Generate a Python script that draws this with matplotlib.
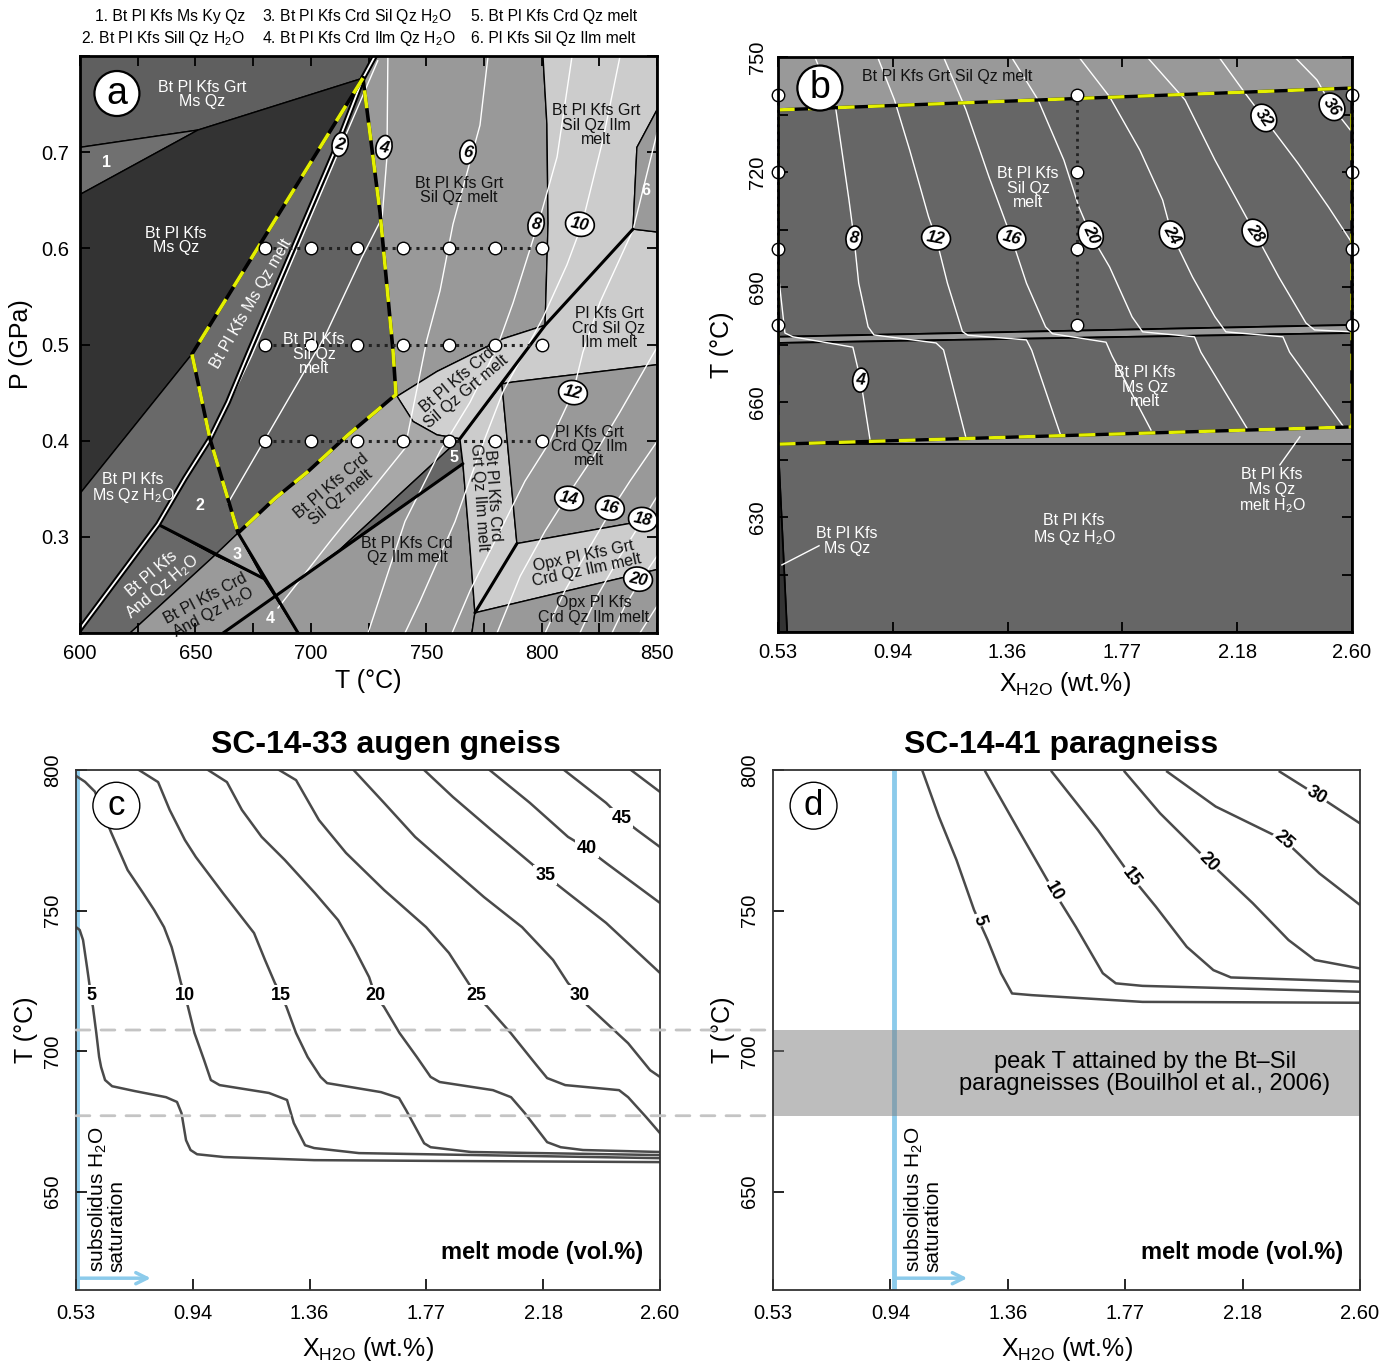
import matplotlib
matplotlib.use("Agg")
import matplotlib.pyplot as plt
from matplotlib.patches import Polygon, ConnectionPatch
import numpy as np

plt.rcParams['font.family'] = ['Liberation Sans', 'DejaVu Sans']
plt.rcParams['mathtext.fontset'] = 'custom'
plt.rcParams['mathtext.rm'] = 'Liberation Sans'
plt.rcParams['mathtext.it'] = 'Liberation Sans:italic'
plt.rcParams['mathtext.bf'] = 'Liberation Sans:bold'

#### panel a: P-T pseudosection, fields as (T degC, P GPa) ####
a_grt_ms_qz = [(600, 0.8), (727.8, 0.8), (722.6, 0.777), (651.1, 0.723), (600, 0.705)]
a_field1 = [(600, 0.705), (651.1, 0.723), (600, 0.656)]
a_ms_qz = [(600, 0.656), (651.1, 0.723), (722.6, 0.777), (648.5, 0.490), (600, 0.345)]
a_ms_qz_h2o = [(600, 0.345), (648.5, 0.490), (656.3, 0.402), (645.5, 0.361), (633.8, 0.313), (600, 0.204)]
a_and_h2o = [(600, 0.204), (633.8, 0.313), (658.5, 0.281), (621.7, 0.2), (600, 0.2)]
a_crd_and_h2o = [(621.7, 0.2), (658.5, 0.281), (679.3, 0.257), (684.5, 0.238), (662.0, 0.2)]
a_field2 = [(656.3, 0.402), (645.5, 0.361), (633.8, 0.313), (658.5, 0.281), (668.5, 0.304)]
a_field3 = [(658.5, 0.281), (668.5, 0.304), (679.3, 0.257)]
a_field4 = [(662.0, 0.2), (684.5, 0.238), (694.5, 0.2)]
a_ms_melt = [(722.6, 0.777), (648.5, 0.490), (656.3, 0.402), (664.1, 0.440), (672.8, 0.490), (710.5, 0.702)]
a_sil_melt = [(722.6, 0.777), (730.0, 0.637), (735.6, 0.494), (736.9, 0.448), (716.1, 0.406), (698.8, 0.368),
              (684.5, 0.340), (668.5, 0.304), (656.3, 0.402), (664.1, 0.440), (672.8, 0.490), (710.5, 0.702)]
a_grt_sil_melt = [(727.8, 0.8), (800.6, 0.8), (802.3, 0.729), (802.8, 0.626), (801.5, 0.520), (783.3, 0.506),
                  (769.0, 0.489), (754.7, 0.472), (737.3, 0.446), (736.9, 0.448), (735.6, 0.494), (730.0, 0.637),
                  (722.6, 0.777)]
a_lens = [(737.3, 0.446), (754.7, 0.472), (769.0, 0.489), (783.3, 0.506), (801.5, 0.520), (764.6, 0.402),
          (754.7, 0.406), (744.3, 0.420)]
a_crd_sil_melt = [(668.5, 0.304), (684.5, 0.340), (698.8, 0.368), (716.1, 0.406), (736.9, 0.448), (744.3, 0.420),
                  (754.7, 0.406), (764.6, 0.402), (712.7, 0.287), (684.5, 0.238), (679.3, 0.257)]
a_field5 = [(712.7, 0.287), (764.6, 0.402), (765.9, 0.376)]
a_crd_ilm_melt = [(684.5, 0.238), (765.9, 0.376), (769.0, 0.288), (771.1, 0.221), (769.8, 0.2), (694.5, 0.2)]
a_crd_grt_ilm_melt = [(764.6, 0.402), (782.8, 0.459), (789.3, 0.293), (771.1, 0.221), (769.0, 0.288), (765.9, 0.376)]
a_crd_sil_ilm_melt = [(801.5, 0.520), (839.6, 0.620), (850, 0.617), (850, 0.479), (787.6, 0.461), (782.8, 0.459)]
a_grt_sil_ilm_melt = [(800.6, 0.8), (850, 0.8), (850, 0.744), (841.3, 0.705), (839.6, 0.620), (801.5, 0.520),
                      (802.8, 0.626), (802.3, 0.729)]
a_field6 = [(850, 0.744), (841.3, 0.705), (839.6, 0.620), (850, 0.617)]
a_grt_crd_ilm_melt = [(782.8, 0.459), (787.6, 0.461), (850, 0.479), (850, 0.319), (789.3, 0.293)]
a_opx_grt_melt = [(789.3, 0.293), (850, 0.319), (850, 0.266), (771.1, 0.221)]
a_opx_crd_melt = [(771.1, 0.221), (850, 0.266), (850, 0.2), (769.8, 0.2)]

a_double_line = [(727.8, 0.8), (722.6, 0.777), (710.5, 0.702), (672.8, 0.490), (664.1, 0.440), (656.3, 0.402),
                 (645.5, 0.361), (633.8, 0.313), (600, 0.204)]
a_solidus_box = [(722.6, 0.777), (648.5, 0.490), (656.3, 0.402), (668.5, 0.304), (684.5, 0.340), (698.8, 0.368),
                 (716.1, 0.406), (736.9, 0.448), (735.6, 0.494), (730.0, 0.637), (722.6, 0.777)]
a_thick = [[(764.6, 0.402), (801.5, 0.520), (839.6, 0.620)],
           [(789.3, 0.293), (771.1, 0.221)],
           [(662.0, 0.2), (765.9, 0.376)],
           [(668.5, 0.304), (694.5, 0.2)],
           [(633.8, 0.313), (679.3, 0.257)]]

# melt isopleths (vol.%)
a_iso = {
    2: [(729.0, 0.795), (712.0, 0.700), (674.3, 0.488), (657.8, 0.405)],
    4: [(733.4, 0.8), (733.0, 0.695), (730.9, 0.632), (722.2, 0.591), (706.2, 0.509), (664.1, 0.335)],
    6: [(776.8, 0.8), (773.3, 0.728), (761.6, 0.625), (756.0, 0.556), (750.3, 0.505), (740.8, 0.392),
        (708.3, 0.295), (685.8, 0.226)],
    8: [(813.2, 0.8), (806.7, 0.695), (799.3, 0.632), (787.6, 0.543), (780.7, 0.497), (769.0, 0.440),
        (756.0, 0.389), (740.8, 0.316), (724.8, 0.2)],
    10: [(834.0, 0.8), (826.6, 0.713), (817.5, 0.625), (811.0, 0.583), (800.6, 0.528), (793.7, 0.497),
         (783.3, 0.451), (773.3, 0.389), (762.5, 0.316), (747.3, 0.233), (740.8, 0.2)],
    12: [(850, 0.720), (839.6, 0.619), (825.3, 0.544), (817.9, 0.492), (813.6, 0.450), (803.6, 0.399),
         (792.8, 0.358), (782.0, 0.306), (769.0, 0.244), (761.2, 0.2)],
    14: [(850, 0.497), (834.0, 0.430), (821.0, 0.378), (811.5, 0.344), (801.5, 0.306), (790.7, 0.259), (780.7, 0.2)],
    16: [(850, 0.399), (838.3, 0.358), (830.5, 0.329), (821.0, 0.290), (810.1, 0.244), (801.5, 0.2)],
    18: [(850, 0.342), (843.9, 0.318), (834.0, 0.280), (824.0, 0.238), (816.6, 0.2)],
    20: [(850, 0.280), (843.5, 0.257), (836.1, 0.228), (830.5, 0.2)],
    22: [(850, 0.228), (842.6, 0.2)],
}
a_iso_label_T = [712.7, 731.7, 768.1, 797.6, 816.6, 813.6, 811.9, 829.6, 843.9, 841.8]
a_iso_label_P = [0.708, 0.705, 0.700, 0.625, 0.625, 0.450, 0.340, 0.330, 0.318, 0.256]
a_iso_label_txt = ['2', '4', '6', '8', '10', '12', '14', '16', '18', '20']

a_grid_T = [680, 700, 720, 740, 760, 780, 800]
a_grid_P = [0.6, 0.5, 0.4]

#### panel b: T-X(H2O) pseudosection at fixed P ####
b_top_band = [(0.53, 750), (2.60, 750), (2.60, 741.9), (0.53, 736.2)]
b_sil_melt = [(0.53, 736.2), (2.60, 741.9), (2.60, 680.1), (0.53, 677.0)]
b_sliver = [(0.53, 677.0), (2.60, 680.1), (2.60, 678.0), (0.53, 675.4)]
b_ms_melt = [(0.53, 675.4), (2.60, 678.0), (2.60, 653.5), (0.53, 649.0)]
b_ms_melt_h2o = [(0.53, 649.0), (2.60, 653.5), (2.60, 649.0)]
b_ms_h2o = [(0.53, 649.0), (2.60, 649.0), (2.60, 600), (0.563, 600)]
b_ms = [(0.53, 649.0), (0.563, 600), (0.53, 600)]
b_solidus_box = [(0.53, 736.2), (2.60, 741.9), (2.60, 653.5), (0.53, 649.0), (0.53, 736.2)]

b_iso = {
    4: [(0.535, 691.0), (0.555, 678.0), (0.584, 677.0), (0.800, 674.3), (0.828, 665.7), (0.862, 650.1)],
    8: [(0.663, 750), (0.739, 736.2), (0.786, 712.7), (0.804, 702.8), (0.821, 691.0), (0.855, 679.6),
        (0.876, 677.5), (1.100, 675.4), (1.127, 673.6), (1.208, 650.6)],
    12: [(0.889, 750), (0.950, 738.8), (1.005, 725.7), (1.073, 708.3), (1.100, 702.8), (1.141, 691.0),
         (1.195, 678.4), (1.215, 677.4), (1.426, 676.2), (1.445, 673.5), (1.549, 651.4)],
    16: [(1.127, 750), (1.208, 736.2), (1.291, 718.7), (1.372, 702.8), (1.426, 691.0), (1.495, 679.6),
         (1.520, 677.8), (1.713, 675.6), (1.735, 672.0), (1.875, 652.7)],
    20: [(1.372, 750), (1.468, 738.8), (1.561, 723.1), (1.615, 710.9), (1.658, 703.6), (1.726, 695.2),
         (1.807, 682.2), (1.845, 678.3), (2.032, 677.0), (2.055, 673.0), (2.221, 653.2)],
    24: [(1.615, 750), (1.726, 739.6), (1.835, 725.7), (1.917, 712.7), (1.951, 703.6), (2.025, 692.6),
         (2.106, 682.2), (2.145, 678.3), (2.351, 677.0), (2.375, 673.0), (2.570, 653.5)],
    28: [(1.861, 750), (1.998, 738.8), (2.106, 723.1), (2.250, 704.1), (2.336, 692.6), (2.434, 680.6),
         (2.465, 678.8), (2.60, 678.3)],
    32: [(2.120, 750), (2.214, 740.6), (2.282, 734.1), (2.405, 722.3), (2.515, 710.9), (2.60, 701.5)],
    36: [(2.393, 750), (2.474, 744.0), (2.528, 737.0), (2.60, 730.4)],
}
b_iso_label_x = [0.828, 0.804, 1.100, 1.372, 1.658, 1.951, 2.250, 2.282, 2.528]
b_iso_label_T = [665.7, 702.8, 702.8, 702.8, 703.6, 703.6, 704.1, 734.1, 737.0]
b_iso_label_txt = ['4', '8', '12', '16', '20', '24', '28', '32', '36']
b_iso_label_rot = [-5, -8, -10, -15, -65, -60, -55, -55, -55]

b_grid_x = [0.53, 1.61, 2.60]
b_grid_T = [740, 720, 700, 680]

#### panels c and d: melt mode (vol.%) contours, (X H2O wt.%, T degC) ####
x_ticks = [0.53, 0.944, 1.358, 1.772, 2.186, 2.60]
x_ticklabels = ['0.53', '0.94', '1.36', '1.77', '2.18', '2.60']

c_contours = {
    5: [(0.53, 744.1), (0.543, 743.1), (0.555, 739.5), (0.569, 729.9), (0.583, 719.9), (0.590, 715.7),
        (0.602, 706.4), (0.612, 697.9), (0.619, 694.3), (0.633, 689.7), (0.658, 687.5), (0.737, 685.8),
        (0.849, 683.6), (0.888, 681.9), (0.904, 677.9), (0.920, 668.3), (0.936, 664.8), (0.959, 663.3),
        (1.055, 662.3), (1.374, 661.2), (1.849, 660.9), (2.60, 660.5)],
    10: [(0.53, 797.9), (0.562, 795.8), (0.597, 792.3), (0.654, 777.9), (0.713, 764.4), (0.768, 756.2),
         (0.807, 750.2), (0.842, 744.1), (0.869, 737.0), (0.888, 729.9), (0.902, 724.2), (0.916, 719.9),
         (0.927, 715.7), (0.950, 706.4), (0.984, 696.8), (1.008, 689.7), (1.039, 687.9), (1.214, 685.1),
         (1.278, 682.6), (1.302, 674.4), (1.342, 666.5), (1.374, 665.5), (1.533, 663.7), (2.60, 661.9)],
    15: [(0.753, 800), (0.821, 795.7), (0.862, 785.8), (0.916, 775.1), (0.955, 769.0), (1.051, 756.2),
         (1.161, 742.0), (1.200, 732.4), (1.235, 724.2), (1.257, 719.9), (1.276, 715.7), (1.310, 706.4),
         (1.351, 697.9), (1.397, 690.8), (1.420, 688.6), (1.611, 685.4), (1.675, 683.3), (1.700, 679.0),
         (1.764, 667.2), (1.787, 665.8), (1.930, 664.1), (2.60, 663.0)],
    20: [(0.998, 800), (1.065, 795.7), (1.118, 785.8), (1.188, 776.2), (1.270, 768.0), (1.377, 756.2),
         (1.459, 746.6), (1.514, 737.0), (1.569, 726.3), (1.590, 719.9), (1.622, 715.7), (1.677, 706.4),
         (1.738, 697.9), (1.787, 690.8), (1.819, 689.0), (2.008, 686.1), (2.072, 683.6), (2.121, 677.9),
         (2.200, 667.6), (2.248, 665.8), (2.327, 664.8), (2.60, 664.1)],
    25: [(1.250, 800), (1.310, 796.4), (1.391, 782.2), (1.487, 770.5), (1.622, 757.3), (1.771, 744.1),
         (1.852, 734.9), (1.921, 724.2), (1.948, 719.9), (1.989, 715.7), (2.071, 706.4), (2.139, 697.9),
         (2.168, 694.3), (2.200, 690.4), (2.264, 687.9), (2.455, 686.1), (2.487, 683.6), (2.551, 676.5),
         (2.60, 670.8)],
    30: [(1.514, 800), (1.622, 788.3), (1.732, 776.2), (1.866, 764.4), (1.976, 754.8), (2.111, 744.1),
         (2.221, 732.4), (2.274, 724.2), (2.315, 719.9), (2.341, 716.4), (2.487, 702.8), (2.565, 693.2),
         (2.60, 690.8)],
    35: [(1.764, 800), (1.866, 790.4), (2.003, 778.6), (2.193, 762.6), (2.274, 756.2), (2.409, 745.6),
         (2.60, 727.8)],
    40: [(1.996, 800), (2.139, 788.3), (2.274, 776.2), (2.340, 772.2), (2.409, 766.9), (2.60, 752.7)],
    45: [(2.260, 800), (2.409, 788.3), (2.464, 782.9), (2.519, 778.6), (2.60, 772.6)],
    50: [(2.497, 800), (2.60, 792.2)],
}
c_label_x = [0.583, 0.916, 1.257, 1.590, 1.948, 2.315, 2.193, 2.340, 2.464]
c_label_T = [719.9, 719.9, 719.9, 719.9, 719.9, 719.9, 762.6, 772.2, 782.9]
c_label_txt = ['5', '10', '15', '20', '25', '30', '35', '40', '45']

d_contours = {
    5: [(1.058, 799.4), (1.115, 783.4), (1.177, 768.0), (1.239, 750.2), (1.287, 739.5), (1.334, 727.7),
        (1.373, 720.5), (1.443, 719.9), (1.833, 717.5), (2.60, 717.2)],
    10: [(1.279, 799.4), (1.396, 778.6), (1.521, 756.7), (1.598, 744.2), (1.693, 727.7), (1.739, 724.1),
         (1.833, 723.2), (2.60, 721.1)],
    15: [(1.513, 799.4), (1.676, 778.6), (1.794, 762.0), (1.880, 751.4), (1.989, 737.1), (2.083, 728.8),
         (2.145, 726.2), (2.60, 724.7)],
    20: [(1.770, 799.4), (1.895, 784.6), (2.067, 767.4), (2.222, 752.6), (2.348, 739.5), (2.441, 732.4),
         (2.60, 729.4)],
    25: [(1.920, 799.4), (2.091, 787.0), (2.332, 775.1), (2.457, 763.2), (2.60, 752.0)],
    30: [(2.317, 799.4), (2.448, 791.1), (2.60, 781.0)],
}
d_label_x = [1.256, 1.521, 1.794, 2.067, 2.332, 2.448]
d_label_T = [746.6, 756.7, 762.0, 767.4, 775.1, 791.1]
d_label_txt = ['5', '10', '15', '20', '25', '30']
d_label_rot = [-72, -60, -53, -46, -41, -31]

# subsolidus H2O saturation and peak-T band of the Bt-Sil paragneisses
c_sat_x = 0.535
d_sat_x = 0.955
peak_T_band = [677.0, 707.5]

BLUE = '#8ccbeb'
LINE = '#4a4a4a'

fig = plt.figure(figsize=(13.89, 13.66), dpi=100)
ax_a = fig.add_axes([80 / 1389, 1 - 633 / 1366, 577 / 1389, 577 / 1366])
ax_b = fig.add_axes([778 / 1389, 1 - 632 / 1366, 574 / 1389, 575 / 1366])
ax_c = fig.add_axes([76 / 1389, 1 - 1290 / 1366, 584 / 1389, 520 / 1366])
ax_d = fig.add_axes([773 / 1389, 1 - 1290 / 1366, 587 / 1389, 520 / 1366])


def fill(ax, pts, color, lw=1.0):
    ax.add_patch(Polygon(pts, closed=True, facecolor=color, edgecolor='black', lw=lw, zorder=1,
                         joinstyle='round'))


def line(ax, pts, **kw):
    xs, ys = zip(*pts)
    ax.plot(xs, ys, **kw)


def num_tag(ax, x, y, s, rot=0, size=12):
    ax.text(x, y, s, ha='center', va='center', fontsize=size, fontweight='bold', fontstyle='italic',
            rotation=rot, zorder=7,
            bbox=dict(boxstyle='ellipse,pad=0.06', fc='white', ec='black', lw=1.2))


def panel_tag(ax, x, y, s, lw=1.6, size=27):
    ax.text(x, y, s, ha='center', va='center', fontsize=size, zorder=8,
            bbox=dict(boxstyle='circle,pad=0.12', fc='white', ec='black', lw=lw))


#### (a) ####
a_fields = [(a_grt_ms_qz, '#5f5f5f'), (a_field1, '#707070'), (a_ms_qz, '#333333'), (a_ms_qz_h2o, '#696969'),
            (a_and_h2o, '#686868'), (a_crd_and_h2o, '#9a9a9a'), (a_field2, '#666666'), (a_field3, '#a3a3a3'),
            (a_field4, '#959595'), (a_ms_melt, '#6b6b6b'), (a_sil_melt, '#626262'), (a_grt_sil_melt, '#999999'),
            (a_lens, '#d0d0d0'), (a_crd_sil_melt, '#a8a8a8'), (a_field5, '#666666'), (a_crd_ilm_melt, '#999999'),
            (a_crd_grt_ilm_melt, '#cccccc'), (a_crd_sil_ilm_melt, '#cccccc'), (a_grt_sil_ilm_melt, '#cccccc'),
            (a_field6, '#9a9a9a'), (a_grt_crd_ilm_melt, '#999999'), (a_opx_grt_melt, '#cccccc'),
            (a_opx_crd_melt, '#999999')]
for pts, col in a_fields:
    fill(ax_a, pts, col)
for k, pts in a_iso.items():
    line(ax_a, pts, color='white', lw=1.0, zorder=2)
for pts in a_thick:
    line(ax_a, pts, color='black', lw=2.2, zorder=3, solid_capstyle='round')
line(ax_a, a_double_line, color='black', lw=4.2, zorder=3)
line(ax_a, a_double_line, color='white', lw=1.3, zorder=3)
line(ax_a, a_solidus_box, color='black', lw=2.6, zorder=4)
line(ax_a, a_solidus_box, color='#e4f000', lw=2.6, zorder=4, dashes=(5, 4))
for p in a_grid_P:
    ax_a.plot([a_grid_T[0], a_grid_T[-1]], [p, p], color='#222222', lw=2.2, ls=(0, (1, 1.6)), zorder=5)
    ax_a.plot(a_grid_T, [p] * len(a_grid_T), 'o', ms=9, mfc='white', mec='black', mew=1.0, zorder=6)
for x, y, s in zip(a_iso_label_T, a_iso_label_P, a_iso_label_txt):
    num_tag(ax_a, x, y, s, rot=-12)

wt = dict(color='white', fontsize=11.5, ha='center', va='center', zorder=7, linespacing=0.95)
bk = dict(color='#111111', fontsize=11.5, ha='center', va='center', zorder=7, linespacing=0.95)
nb = dict(color='white', fontsize=11.5, ha='center', va='center', zorder=7, fontweight='bold')
ax_a.text(652.9, 0.760, 'Bt Pl Kfs Grt\nMs Qz', **wt)
ax_a.text(611.3, 0.689, '1', **nb)
ax_a.text(641.6, 0.608, 'Bt Pl Kfs\nMs Qz', **wt)
ax_a.text(674.1, 0.542, 'Bt Pl Kfs Ms Qz melt', rotation=60, **wt)
ax_a.text(701.4, 0.490, 'Bt Pl Kfs\nSil Qz\nmelt', **wt)
ax_a.text(764.2, 0.660, 'Bt Pl Kfs Grt\nSil Qz melt', **bk)
ax_a.text(823.6, 0.728, 'Bt Pl Kfs Grt\nSil Qz Ilm\nmelt', **bk)
ax_a.text(845.2, 0.660, '6', **nb)
ax_a.text(829.2, 0.517, 'Pl Kfs Grt\nCrd Sil Qz\nIlm melt', **bk)
ax_a.text(765.5, 0.457, 'Bt Pl Kfs Crd\nSil Qz Grt melt', rotation=40, **bk)
ax_a.text(711.0, 0.347, 'Bt Pl Kfs Crd\nSil Qz melt', rotation=40, **bk)
ax_a.text(623.0, 0.350, 'Bt Pl Kfs\nMs Qz H$_2$O', **wt)
ax_a.text(652.0, 0.333, '2', **nb)
ax_a.text(668.0, 0.282, '3', **nb)
ax_a.text(682.3, 0.215, '4', **nb)
ax_a.text(762.0, 0.383, '5', **nb)
ax_a.text(633.8, 0.254, 'Bt Pl Kfs\nAnd Qz H$_2$O', rotation=40, **wt)
ax_a.text(656.3, 0.228, 'Bt Pl Kfs Crd\nAnd Qz H$_2$O', rotation=28, **bk)
ax_a.text(741.7, 0.286, 'Bt Pl Kfs Crd\nQz Ilm melt', **bk)
ax_a.text(775.9, 0.342, 'Bt Pl Kfs Crd\nGrt Qz Ilm melt', rotation=-86, **bk)
ax_a.text(820.5, 0.394, 'Pl Kfs Grt\nCrd Qz Ilm\nmelt', **bk)
ax_a.text(818.8, 0.273, 'Opx Pl Kfs Grt\nCrd Qz Ilm melt', rotation=12, **bk)
ax_a.text(822.7, 0.224, 'Opx Pl Kfs\nCrd Qz Ilm melt', **bk)
panel_tag(ax_a, 616.0, 0.761, 'a')

ax_a.set_xlim(600, 850)
ax_a.set_ylim(0.2, 0.8)
ax_a.set_xticks(np.arange(600, 851, 25))
ax_a.set_xticklabels([str(v) if v % 50 == 0 else '' for v in range(600, 851, 25)])
ax_a.set_yticks([0.2, 0.3, 0.4, 0.5, 0.6, 0.7, 0.8])
ax_a.set_yticklabels(['', '0.3', '0.4', '0.5', '0.6', '0.7', ''])
ax_a.tick_params(direction='in', length=7, width=1.3, top=True, right=True, labelsize=14.5, pad=8)
ax_a.set_xlabel('T (°C)', fontsize=18, labelpad=4)
ax_a.set_ylabel('P (GPa)', fontsize=18, labelpad=6)
for sp in ax_a.spines.values():
    sp.set_linewidth(2.0)
    sp.set_zorder(9)

hdr = dict(fontsize=11.3, va='center')
fig.text(245 / 1389, 1 - 17 / 1366, '1. Bt Pl Kfs Ms Ky Qz', ha='right', **hdr)
fig.text(262 / 1389, 1 - 17 / 1366, '3. Bt Pl Kfs Crd Sil Qz H$_2$O', ha='left', **hdr)
fig.text(471 / 1389, 1 - 17 / 1366, '5. Bt Pl Kfs Crd Qz melt', ha='left', **hdr)
fig.text(245 / 1389, 1 - 38 / 1366, '2. Bt Pl Kfs Sill Qz H$_2$O', ha='right', **hdr)
fig.text(262 / 1389, 1 - 38 / 1366, '4. Bt Pl Kfs Crd Ilm Qz H$_2$O', ha='left', **hdr)
fig.text(471 / 1389, 1 - 38 / 1366, '6. Pl Kfs Sil Qz Ilm melt', ha='left', **hdr)

#### (b) ####
b_fields = [(b_top_band, '#999999'), (b_sil_melt, '#666666'), (b_sliver, '#9a9a9a'), (b_ms_melt, '#666666'),
            (b_ms_melt_h2o, '#999999'), (b_ms_h2o, '#666666'), (b_ms, '#333333')]
for pts, col in b_fields:
    fill(ax_b, pts, col, lw=1.3)
for k, pts in b_iso.items():
    line(ax_b, pts, color='white', lw=1.0, zorder=2)
line(ax_b, b_solidus_box, color='black', lw=2.4, zorder=4)
line(ax_b, b_solidus_box, color='#e4f000', lw=2.4, zorder=4, dashes=(5, 4))
for x in b_grid_x:
    ax_b.plot([x, x], [b_grid_T[0], b_grid_T[-1]], color='#222222', lw=2.0, ls=(0, (1, 1.6)), zorder=5,
              clip_on=False)
    ax_b.plot([x] * len(b_grid_T), b_grid_T, 'o', ms=9, mfc='white', mec='black', mew=1.0, zorder=6,
              clip_on=False)
for x, y, s, r in zip(b_iso_label_x, b_iso_label_T, b_iso_label_txt, b_iso_label_rot):
    num_tag(ax_b, x, y, s, rot=r)
ax_b.text(1.139, 745.0, 'Bt Pl Kfs Grt Sil Qz melt', **bk)
ax_b.text(1.432, 715.8, 'Bt Pl Kfs\nSil Qz\nmelt', **wt)
ax_b.text(1.853, 663.9, 'Bt Pl Kfs\nMs Qz\nmelt', **wt)
ax_b.text(2.311, 636.8, 'Bt Pl Kfs\nMs Qz\nmelt H$_2$O', **wt)
ax_b.plot([2.340, 2.412], [643.6, 650.9], color='white', lw=1.0, zorder=6)
ax_b.text(1.597, 626.6, 'Bt Pl Kfs\nMs Qz H$_2$O', **wt)
ax_b.text(0.779, 623.7, 'Bt Pl Kfs\nMs Qz', **wt)
ax_b.plot([0.544, 0.678], [617.5, 622.5], color='white', lw=1.0, zorder=6)
panel_tag(ax_b, 0.681, 741.9, 'b')

ax_b.set_xlim(0.53, 2.60)
ax_b.set_ylim(600, 750)
ax_b.set_xticks(x_ticks)
ax_b.set_xticklabels(x_ticklabels)
ax_b.set_yticks(np.arange(600, 751, 15))
ax_b.set_yticklabels([str(v) if v % 30 == 0 and v > 600 else '' for v in range(600, 751, 15)],
                     rotation=90, va='center')
ax_b.tick_params(direction='in', length=7, width=1.3, top=True, right=True, labelsize=14.5, pad=8)
ax_b.set_xlabel('X$_{\\mathrm{H2O}}$ (wt.%)', fontsize=18, labelpad=6)
ax_b.set_ylabel('T (°C)', fontsize=18, labelpad=10)
for sp in ax_b.spines.values():
    sp.set_linewidth(2.0)
    sp.set_zorder(9)

#### (c) and (d) ####
lbl = dict(fontsize=13, fontweight='bold', ha='center', va='center', zorder=6,
           bbox=dict(boxstyle='square,pad=0.1', fc='white', ec='none'))

ax_c.axvline(c_sat_x, color=BLUE, lw=3.5, zorder=1)
for k, pts in c_contours.items():
    line(ax_c, pts, color=LINE, lw=1.8, zorder=3)
for x, y, s in zip(c_label_x, c_label_T, c_label_txt):
    ax_c.text(x, y, s, **lbl)

ax_d.axvline(d_sat_x, color=BLUE, lw=3.5, zorder=1)
ax_d.axhspan(peak_T_band[0], peak_T_band[1], color='#7d7d7d', alpha=0.5, lw=0, zorder=2)
for k, pts in d_contours.items():
    line(ax_d, pts, color=LINE, lw=1.8, zorder=3)
for x, y, s, r in zip(d_label_x, d_label_T, d_label_txt, d_label_rot):
    ax_d.text(x, y, s, rotation=r, **lbl)
ax_d.text(1.842, 692.2, 'peak T attained by the Bt–Sil\nparagneisses (Bouilhol et al., 2006)',
          ha='center', va='center', fontsize=17, linespacing=1.05, zorder=4)

for ax, x0, tag in [(ax_c, c_sat_x, 'c'), (ax_d, d_sat_x, 'd')]:
    ax.annotate('', xy=(x0 + 0.27, 619.2), xytext=(x0, 619.2),
                arrowprops=dict(arrowstyle='->', color=BLUE, lw=2.5, mutation_scale=20), zorder=4)
    ax.text(x0 + 0.032, 621.5, 'subsolidus H$_2$O\nsaturation', rotation=90, ha='left', va='bottom',
            fontsize=15, linespacing=0.9, zorder=4)
    ax.text(2.54, 628.5, 'melt mode (vol.%)', ha='right', va='center', fontsize=17, fontweight='bold')
    ax.text(0.673, 787.3, tag, ha='center', va='center', fontsize=25, zorder=8,
            bbox=dict(boxstyle='circle,pad=0.2', fc='white', ec='black', lw=1.0))
    ax.set_xlim(0.53, 2.60)
    ax.set_ylim(615, 800)
    ax.set_xticks(x_ticks)
    ax.set_xticklabels(x_ticklabels)
    ax.set_yticks([650, 700, 750, 800])
    ax.set_yticklabels(['650', '700', '750', '800'], rotation=90, va='center')
    ax.tick_params(direction='in', length=8, width=1.2, labelsize=14.5, pad=10)
    ax.set_xlabel('X$_{\\mathrm{H2O}}$ (wt.%)', fontsize=18, labelpad=9)
    ax.set_ylabel('T (°C)', fontsize=18, labelpad=4)
    for sp in ax.spines.values():
        sp.set_linewidth(1.3)
        sp.set_color('#333333')
        sp.set_zorder(9)

ax_c.set_title('SC-14-33 augen gneiss', fontsize=23, fontweight='bold', pad=12, x=0.53)
ax_d.set_title('SC-14-41 paragneiss', fontsize=23, fontweight='bold', pad=12, x=0.49)

for t in peak_T_band:
    con = ConnectionPatch(xyA=(0.53, t), coordsA=ax_c.transData, xyB=(0.53, t), coordsB=ax_d.transData,
                          color='#c4c4c4', lw=2.0, linestyle=(0, (5, 4)), zorder=2)
    fig.add_artist(con)

fig.savefig('out.png', dpi=100)
